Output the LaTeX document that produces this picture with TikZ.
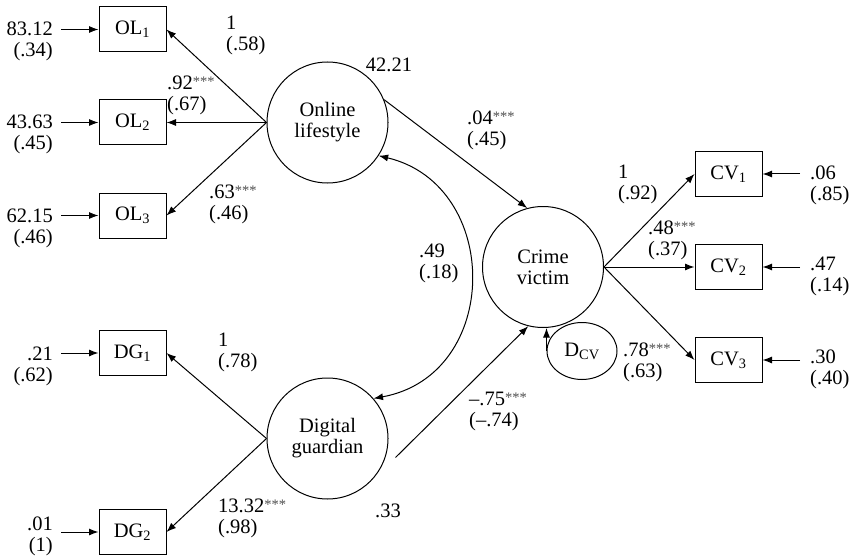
\documentclass[tikz,border=0pt]{standalone}
\usepackage{fontspec}
\setmainfont{Liberation Serif}
\usetikzlibrary{arrows.meta,calc,shapes.geometric}
\newcommand{\sig}{\raisebox{0.3ex}{\fontsize{14.5}{14.5}\selectfont\color{black!70}***}}
\begin{document}
\begin{tikzpicture}[x=1pt,y=-1pt,
  every node/.style={font=\fontsize{20.5}{21}\selectfont},
  box/.style={draw,line width=1pt,minimum width=67pt,minimum height=45pt,inner sep=0pt},
  latent/.style={draw,circle,line width=1pt,minimum size=121pt,inner sep=0pt,align=center},
  lbl/.style={inner sep=0pt,align=left,anchor=west},
  lblr/.style={inner sep=0pt,align=right,anchor=east},
  val/.style={inner sep=0pt},
  arr/.style={line width=1pt,-{Latex[length=9.5pt,width=7pt]}},
]
\useasboundingbox (0,0) rectangle (853,556);

% observed indicators
\node[box] (ol1) at (132.5,29.5) {OL\textsubscript{1}};
\node[box] (ol2) at (132.5,122.5) {OL\textsubscript{2}};
\node[box] (ol3) at (132.5,215.5) {OL\textsubscript{3}};
\node[box] (dg1) at (132.5,353) {DG\textsubscript{1}};
\node[box] (dg2) at (132.5,532) {DG\textsubscript{2}};
\node[box] (cv1) at (728.5,174) {CV\textsubscript{1}};
\node[box] (cv2) at (728.5,267) {CV\textsubscript{2}};
\node[box] (cv3) at (728.5,360) {CV\textsubscript{3}};

% latent factors
\node[latent] (ol) at (327.5,122.5) {Online\\lifestyle};
\node[latent] (dg) at (327.5,438.5) {Digital\\guardian};
\node[latent] (cv) at (543,267) {Crime\\victim};
\node[draw,ellipse,line width=1pt,minimum width=70pt,minimum height=57pt,inner sep=0pt] (dcv) at (582,351) {D\textsubscript{CV}};

% measurement errors, left side
\coordinate (e1) at (61,29.5);
\coordinate (e2) at (61,122.5);
\coordinate (e3) at (61,215.5);
\coordinate (e4) at (61,353);
\coordinate (e5) at (61,532);
\draw[arr] (e1) -- (ol1);
\draw[arr] (e2) -- (ol2);
\draw[arr] (e3) -- (ol3);
\draw[arr] (e4) -- (dg1);
\draw[arr] (e5) -- (dg2);
\node[lblr] (e1l) at (53,41.5) {83.12\\(.34)};
\node[lblr] (e2l) at (53,134.5) {43.63\\(.45)};
\node[lblr] (e3l) at (53,228.5) {62.15\\(.46)};
\node[lblr] (e4l) at (53,366.5) {.21\\(.62)};
\node[lblr] (e5l) at (53,536) {.01\\(1)};

% measurement errors, right side
\coordinate (f1) at (800,174);
\coordinate (f2) at (800,267);
\coordinate (f3) at (800,360);
\draw[arr] (f1) -- (cv1);
\draw[arr] (f2) -- (cv2);
\draw[arr] (f3) -- (cv3);
\node[lbl] (f1l) at (810,185) {.06\\(.85)};
\node[lbl] (f2l) at (810,276.5) {.47\\(.14)};
\node[lbl] (f3l) at (810,369.5) {.30\\(.40)};

% loadings
\draw[arr] (ol.west) -- (ol1.east);
\draw[arr] (ol.west) -- (ol2.east);
\draw[arr] (ol.west) -- (ol3.east);
\draw[arr] (dg.west) -- (dg1.east);
\draw[arr] (dg.west) -- (dg2.east);
\draw[arr] (cv.east) -- (cv1.west);
\draw[arr] (cv.east) -- (cv2.west);
\draw[arr] (cv.east) -- (cv3.west);

% structural paths
\draw[arr] (ol.22) -- (cv.105);
\coordinate (gs) at ($(dg.center)+(68,19)$);
\draw[arr] (gs) -- (cv.256);
\draw[arr] (dcv.west) -- (dcv.west |- cv.south);

% factor covariance
\draw[line width=1pt,{Latex[length=9.5pt,width=7pt]}-{Latex[length=9.5pt,width=7pt]}]
  (ol.-33) .. controls (502,185) and (502,375) .. (dg.41);

% estimates
\node[lbl] (l1) at (226,35) {1\\(.58)};
\node[lbl] (l2) at (167,95) {.92\sig\\(.67)};
\node[lbl] (l3) at (209,204) {.63\sig\\(.46)};
\node[val] (vol) at (389,65) {42.21};
\node[lbl] (l4) at (467,130.5) {.04\sig\\(.45)};
\node[lbl] (l5) at (419,263.5) {.49\\(.18)};
\node[lbl] (l6) at (469,411.5) {–.75\sig\\(–.74)};
\node[lbl] (l7) at (218,352) {1\\(.78)};
\node[lbl] (l8) at (218,518.5) {13.32\sig\\(.98)};
\node[val] (vdg) at (388,511) {.33};
\node[lbl] (l9) at (618,184.5) {1\\(.92)};
\node[lbl] (l10) at (648,240) {.48\sig\\(.37)};
\node[lbl] (l11) at (623,362) {.78\sig\\(.63)};
\end{tikzpicture}
\end{document}
